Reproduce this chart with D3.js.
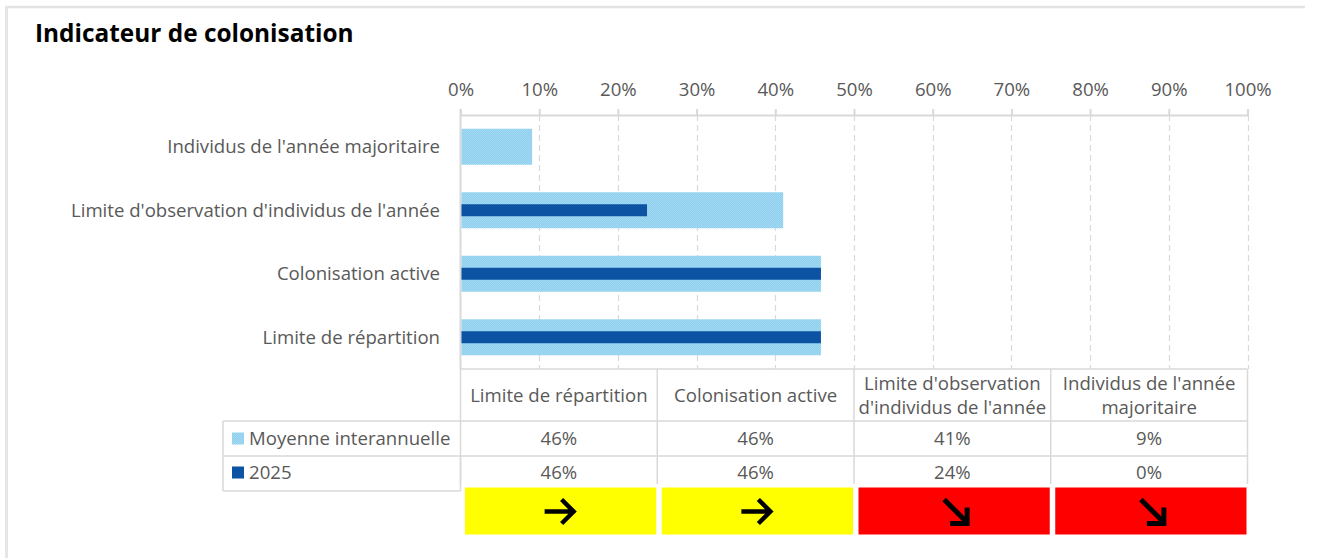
<!DOCTYPE html>
<html><head><meta charset="utf-8">
<script src="https://cdn.jsdelivr.net/npm/d3@7"></script>
<style>
html,body{margin:0;padding:0;background:#fff;}
svg{display:block;font-family:"Open Sans", sans-serif;}
</style></head>
<body>
<svg id="chart" width="1319" height="558"></svg>
<script>
// ---- data ----
const title = "Indicateur de colonisation";
const categories = ["Limite de répartition", "Colonisation active", "Limite d'observation d'individus de l'année", "Individus de l'année majoritaire"];
const headerLines = [["Limite de répartition"], ["Colonisation active"], ["Limite d'observation", "d'individus de l'année"], ["Individus de l'année", "majoritaire"]];
const seriesNames = ["Moyenne interannuelle", "2025"];
const moyenne = [0.458, 0.458, 0.41, 0.091];
const annee2025 = [0.458, 0.458, 0.237, 0.0];
const trends = ["stable", "stable", "down", "down"];
const tickValues = [0, 0.1, 0.2, 0.3, 0.4, 0.5, 0.6, 0.7, 0.8, 0.9, 1.0];

(function () {
// ---- styles ----
const textColor = "#595959", gridColor = "#d9d9d9";
const lightA = "#8ecfee", lightB = "#a3d9f2", dark = "#0d53a3";
const trendColor = {stable: "#ffff00", down: "#ff0000"};
const fs = 18.6;

const svg = d3.select("#chart");
const defs = svg.append("defs");
const pat = defs.append("pattern").attr("id", "hatch").attr("width", 2).attr("height", 2).attr("patternUnits", "userSpaceOnUse");
pat.append("rect").attr("width", 2).attr("height", 2).attr("fill", lightA);
pat.append("rect").attr("width", 1).attr("height", 1).attr("fill", lightB);
pat.append("rect").attr("x", 1).attr("y", 1).attr("width", 1).attr("height", 1).attr("fill", lightB);

// frame
svg.append("line").attr("x1", 5).attr("x2", 1305).attr("y1", 7).attr("y2", 7)
  .attr("stroke", "#e3e3e3").attr("stroke-width", 2.5);
svg.append("line").attr("x1", 6.5).attr("x2", 6.5).attr("y1", 6).attr("y2", 558)
  .attr("stroke", "#e6e6e6").attr("stroke-width", 3);

// title
svg.append("text").attr("x", 35).attr("y", 42).attr("font-size", 24.4).attr("font-weight", "bold")
  .attr("fill", "#000").text(title);

const pLeft = 460.5, pRight = 1247.5, pTop = 115, pBottom = 369;
const x = d3.scaleLinear().domain([0, 1]).range([pLeft, pRight]);
const y = d3.scaleBand().domain(categories.slice().reverse()).range([pTop, pBottom])
  .paddingInner(0.433).paddingOuter(0.2165);

// gridlines
svg.append("g").selectAll("line").data(tickValues.slice(1)).join("line")
  .attr("x1", d => Math.round(x(d)) + 0.5).attr("x2", d => Math.round(x(d)) + 0.5)
  .attr("y1", pTop).attr("y2", pBottom)
  .attr("stroke", gridColor).attr("stroke-width", 1.2).attr("stroke-dasharray", "6,4");

// top axis
const axis = d3.axisTop(x).tickValues(tickValues).tickFormat(d3.format(".0%")).tickSizeInner(6).tickSizeOuter(0).tickPadding(13);
const ag = svg.append("g").attr("transform", `translate(0,${pTop})`).call(axis);
ag.select(".domain").attr("stroke", gridColor).attr("stroke-width", 2);
ag.selectAll(".tick line").attr("stroke", gridColor).attr("stroke-width", 2);
ag.selectAll(".tick text").attr("fill", textColor).attr("font-size", fs).attr("font-family", "Open Sans");
svg.append("line").attr("x1", x(0)).attr("x2", x(0)).attr("y1", pTop - 6).attr("y2", pBottom)
  .attr("stroke", gridColor).attr("stroke-width", 2);

// bars
svg.append("g").selectAll("rect").data(categories).join("rect")
  .attr("x", x(0) + 1).attr("y", d => y(d))
  .attr("width", (d, i) => x(moyenne[i]) - x(0) - 1).attr("height", y.bandwidth())
  .attr("fill", "url(#hatch)");
const dh = 12;
svg.append("g").selectAll("rect").data(categories).join("rect")
  .attr("x", x(0) + 1).attr("y", d => y(d) + y.bandwidth() / 2 - dh / 2)
  .attr("width", (d, i) => Math.max(0, x(annee2025[i]) - x(0) - 1)).attr("height", dh)
  .attr("fill", dark);

// category labels
svg.append("g").selectAll("text").data(categories).join("text")
  .attr("x", 440).attr("y", d => y(d) + y.bandwidth() / 2).attr("dy", "0.35em")
  .attr("text-anchor", "end").attr("fill", textColor).attr("font-size", fs).text(d => d);

// ---- data table ----
const colX = d3.scaleBand().domain(categories).range([pLeft, pRight]);
const tg = svg.append("g");
const lineAttr = s => s.attr("stroke", gridColor).attr("stroke-width", 1.5);
lineAttr(tg.append("line").attr("x1", pLeft).attr("x2", pRight).attr("y1", pBottom).attr("y2", pBottom));
[421, 456].forEach(yy => lineAttr(tg.append("line").attr("x1", 223).attr("x2", pRight).attr("y1", yy).attr("y2", yy)));
lineAttr(tg.append("line").attr("x1", 223).attr("x2", pLeft).attr("y1", 491).attr("y2", 491));
lineAttr(tg.append("line").attr("x1", 223).attr("x2", 223).attr("y1", 421).attr("y2", 491));
[...categories.map(c => colX(c)), pRight].forEach(xx => {
  lineAttr(tg.append("line").attr("x1", xx).attr("x2", xx).attr("y1", pBottom).attr("y2", 484));
});
lineAttr(tg.append("line").attr("x1", pLeft).attr("x2", pLeft).attr("y1", 456).attr("y2", 491));

categories.forEach((c, i) => {
  const lines = headerLines[i];
  const cy = (pBottom + 421) / 2;
  const lh = 24;
  lines.forEach((l, j) => {
    tg.append("text").attr("x", colX(c) + colX.bandwidth() / 2)
      .attr("y", cy + (j - (lines.length - 1) / 2) * lh).attr("dy", "0.35em")
      .attr("text-anchor", "middle").attr("fill", textColor).attr("font-size", fs).text(l);
  });
});
const fmt = d3.format(".0%");
[moyenne, annee2025].forEach((vals, r) => {
  const cy = r === 0 ? 438.5 : 472.5;
  categories.forEach((c, i) => {
    tg.append("text").attr("x", colX(c) + colX.bandwidth() / 2).attr("y", cy).attr("dy", "0.35em")
      .attr("text-anchor", "middle").attr("fill", textColor).attr("font-size", fs).text(fmt(vals[i]));
  });
  tg.append("rect").attr("x", 232).attr("y", cy - 6).attr("width", 12).attr("height", 12)
    .attr("fill", r === 0 ? "url(#hatch)" : dark);
  tg.append("text").attr("x", 249).attr("y", cy).attr("dy", "0.35em").attr("fill", textColor)
    .attr("font-size", fs).text(seriesNames[r]);
});

// trend boxes
const g2 = svg.append("g");
categories.forEach((c, i) => {
  const bx = colX(c) + 4.5, bw = colX.bandwidth() - 5.5;
  g2.append("rect").attr("x", bx).attr("y", 487.5).attr("width", bw).attr("height", 47)
    .attr("fill", trendColor[trends[i]]);
  const cx = bx + bw / 2, cy = 511.5;
  if (trends[i] === "stable") {
    g2.append("path").attr("d", `M${cx - 16},${cy}H${cx + 13}M${cx + 1},${cy - 12}L${cx + 13},${cy}L${cx + 1},${cy + 12}`)
      .attr("fill", "none").attr("stroke", "#000").attr("stroke-width", 4.5);
  } else {
    const ox = cx + 2;
    g2.append("path").attr("d", `M${ox - 12},${cy - 12}L${ox + 10},${cy + 10}M${ox + 11},${cy - 4}V${cy + 12}H${ox - 6}`)
      .attr("fill", "none").attr("stroke", "#000").attr("stroke-width", 5);
  }
});
})();
</script>
</body></html>
